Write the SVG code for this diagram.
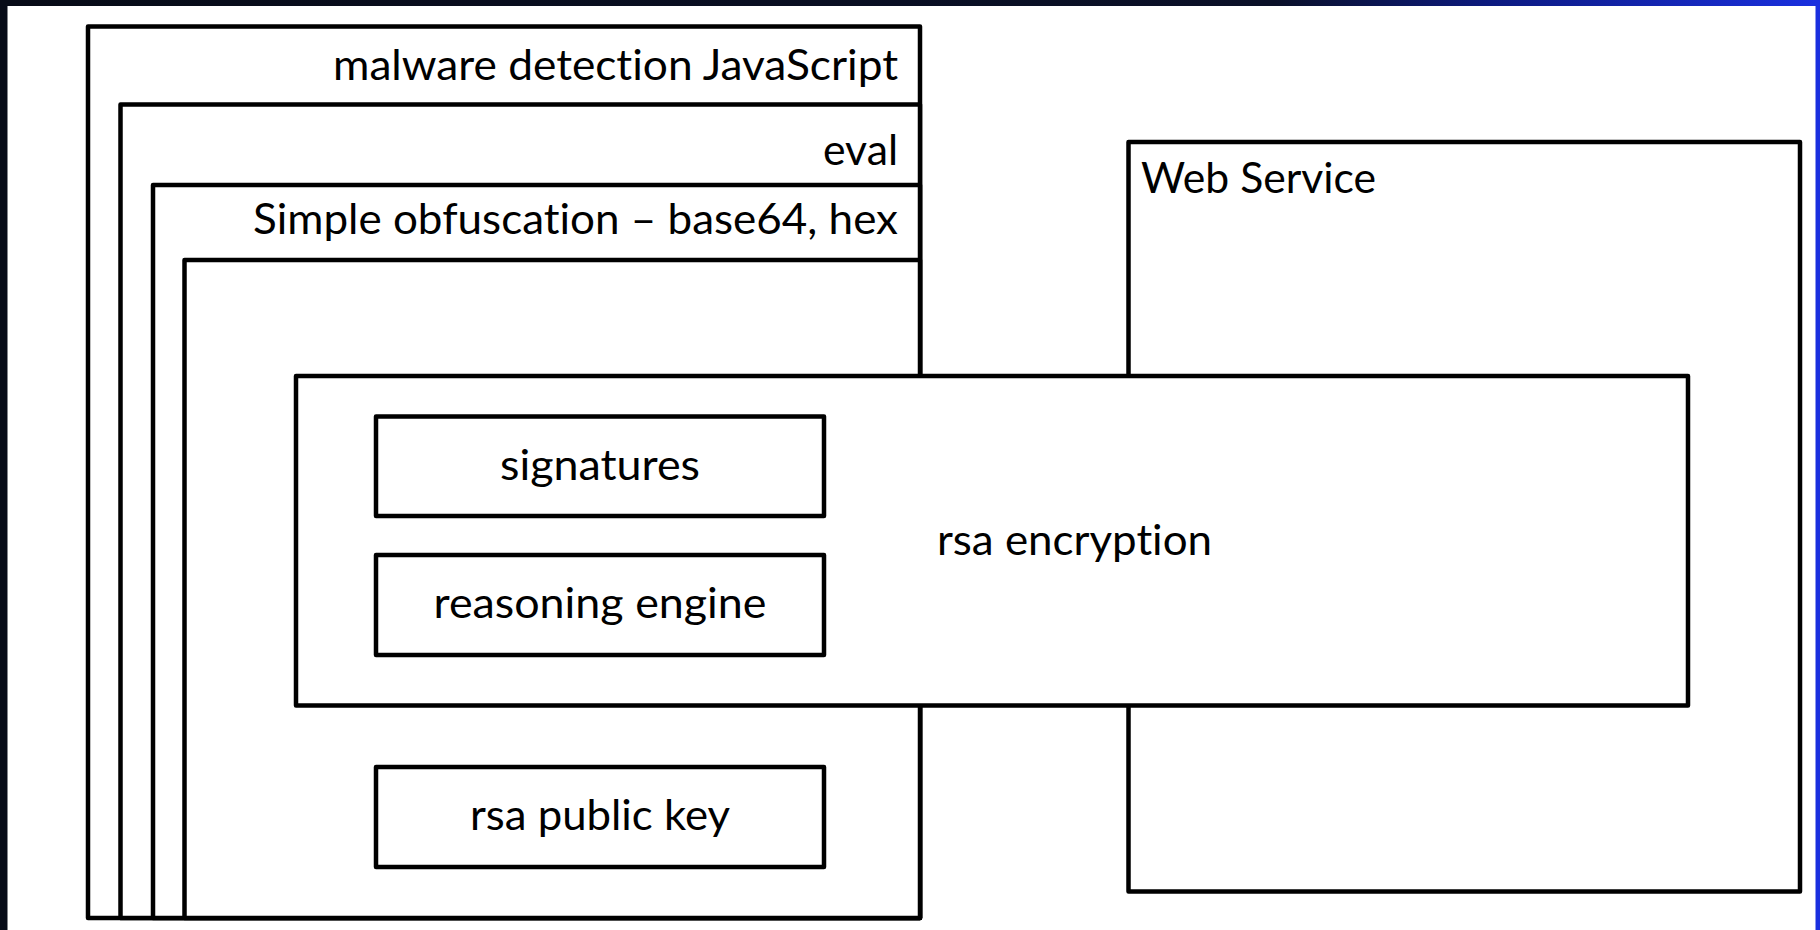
<svg xmlns="http://www.w3.org/2000/svg" width="1820" height="930" viewBox="0 0 1820 930">
  <defs>
    <linearGradient id="bg" x1="0" y1="0" x2="1" y2="0">
      <stop offset="0" stop-color="#070b17"/>
      <stop offset="0.7" stop-color="#0a1028"/>
      <stop offset="0.82" stop-color="#0c1a80"/>
      <stop offset="1" stop-color="#1a30e0"/>
    </linearGradient>
    <style>
      .box { fill: #ffffff; stroke: #000000; stroke-width: 4.5; stroke-linejoin: round; }
      .lbl { font-family: Lato, "Open Sans", "Liberation Sans", sans-serif; font-size: 42px; fill: #000000; font-variant-ligatures: none; font-feature-settings: "liga" 0, "clig" 0; }
      .r { text-anchor: end; }
      .c { text-anchor: middle; }
    </style>
  </defs>

  <rect x="0" y="0" width="1820" height="930" fill="url(#bg)"/>
  <rect x="7.5" y="6" width="1808" height="924" fill="#ffffff"/>

  <g id="malware-detection-js">
    <rect class="box" x="88" y="26.5" width="832" height="891.5"/>
    <text class="lbl r" x="898" y="80" textLength="565" lengthAdjust="spacingAndGlyphs">malware detection JavaScript</text>
  </g>
  <g id="eval">
    <rect class="box" x="120.5" y="104.5" width="799.5" height="813.5"/>
    <text class="lbl r" x="898" y="165" textLength="75" lengthAdjust="spacingAndGlyphs">eval</text>
  </g>
  <g id="simple-obfuscation">
    <rect class="box" x="153" y="185" width="767" height="733"/>
    <text class="lbl r" x="898" y="234" textLength="645" lengthAdjust="spacingAndGlyphs">Simple obfuscation – base64, hex</text>
  </g>
  <g id="inner-script">
    <rect class="box" x="184.5" y="260" width="735.5" height="658"/>
  </g>

  <g id="web-service">
    <rect class="box" x="1128.5" y="142" width="671.5" height="749.5"/>
    <text class="lbl" x="1141" y="193" textLength="235" lengthAdjust="spacingAndGlyphs">Web Service</text>
  </g>

  <g id="rsa-encryption">
    <rect class="box" x="296" y="376" width="1392" height="329.5"/>
    <text class="lbl" x="937" y="555" textLength="275" lengthAdjust="spacingAndGlyphs">rsa encryption</text>
  </g>

  <g id="signatures">
    <rect class="box" x="376" y="416.5" width="448" height="99.5"/>
    <text class="lbl c" x="600" y="480" textLength="200" lengthAdjust="spacingAndGlyphs">signatures</text>
  </g>
  <g id="reasoning-engine">
    <rect class="box" x="376" y="555" width="448" height="100"/>
    <text class="lbl c" x="600" y="618" textLength="333" lengthAdjust="spacingAndGlyphs">reasoning engine</text>
  </g>
  <g id="rsa-public-key">
    <rect class="box" x="376" y="767" width="448" height="100"/>
    <text class="lbl c" x="600" y="830" textLength="260" lengthAdjust="spacingAndGlyphs">rsa public key</text>
  </g>

  <g id="connectors"></g>
</svg>
